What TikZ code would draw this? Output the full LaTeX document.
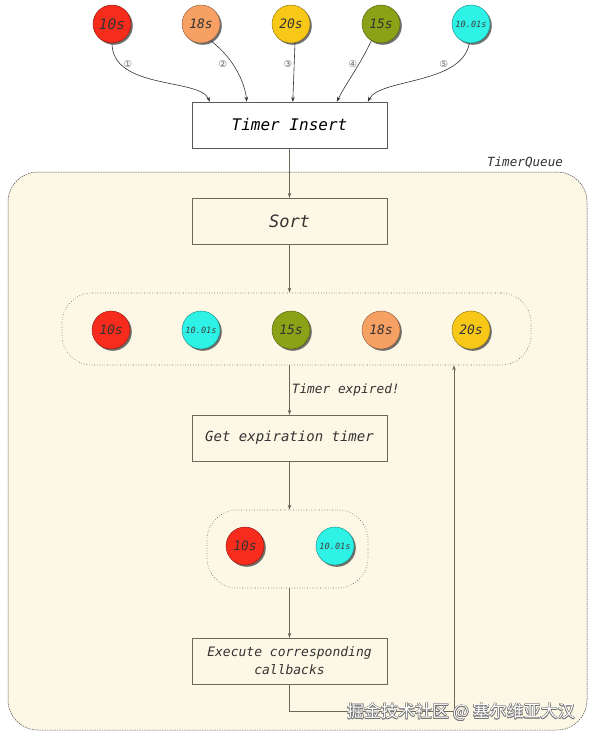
\documentclass[tikz,border=0pt]{standalone}
\usepackage{fontspec}
\setmonofont{DejaVu Sans Mono}
\newfontfamily\cjk{Noto Sans CJK SC}
\newfontfamily\symf{DejaVu Sans}
\usetikzlibrary{arrows.meta,shadows,calc}
\definecolor{cred}{HTML}{F82C1C}
\definecolor{corange}{HTML}{F7A064}
\definecolor{cyellow}{HTML}{F8C818}
\definecolor{cgreen}{HTML}{8CA216}
\definecolor{ccyan}{HTML}{2EF2E6}
\definecolor{cream}{HTML}{FDF8E6}
\definecolor{lineC}{HTML}{6E6658}
\begin{document}
\begin{tikzpicture}[x=1pt,y=-1pt,
  font=\ttfamily\itshape,
  circ/.style={circle, minimum size=38pt, inner sep=0pt, draw=#1!55!black, fill=#1,
    font=\fontsize{13}{15}\selectfont\ttfamily\itshape, text=black!80,
    drop shadow={shadow xshift=1.8pt, shadow yshift=-1.8pt, opacity=0.7, fill=black!80}},
  smallt/.style={font=\fontsize{8.6}{10}\selectfont\ttfamily\itshape, text=black!75},
  boxA/.style={draw=black!65, fill=white, minimum width=195pt, minimum height=46pt, inner sep=2pt, align=center},
  boxB/.style={draw=lineC, minimum width=195pt, minimum height=46pt, inner sep=2pt, align=center, text=black!80},
  arr/.style={-{Stealth[length=5pt,width=3.6pt]}, draw=black!80, line width=0.6pt},
  arrB/.style={-{Stealth[length=5pt,width=3.6pt]}, draw=lineC, line width=0.6pt},
  cont/.style={draw=black!65, dotted, line width=0.6pt, rounded corners=30pt},
  num/.style={font=\symf\fontsize{9.5}{10}\selectfont, text=black!60},
]
\useasboundingbox[fill=white] (0,0) rectangle (596,741);

% big queue
\node[draw=black!70, dash pattern=on 1.6pt off 0.9pt, line width=0.5pt, fill=cream,
  rounded corners=30pt, minimum width=579pt, minimum height=558pt] (queue) at (297.5,451) {};
\node[font=\fontsize{12.6}{14}\selectfont\ttfamily\itshape, text=black!80] (qlabel) at (525,163) {TimerQueue};

% top circles
\node[circ=cred, font=\fontsize{14.5}{16}\selectfont\ttfamily\itshape] (t1) at (112,24) {10s};
\node[circ=corange] (t2) at (201,24) {18s};
\node[circ=cyellow] (t3) at (291,24) {20s};
\node[circ=cgreen] (t4) at (381,24) {15s};
\node[circ=ccyan, smallt] (t5) at (471,24) {10.01s};

% insert box
\node[boxA, font=\fontsize{16}{18}\selectfont\ttfamily\itshape] (insert) at (289.5,125) {Timer Insert};
\coordinate (i1) at ($(insert.north west)+(18,0)$);
\coordinate (i2) at ($(insert.north west)+(55,0)$);
\coordinate (i3) at ($(insert.north west)+(101,0)$);
\coordinate (i4) at ($(insert.north west)+(145,0)$);
\coordinate (i5) at ($(insert.north west)+(176,0)$);

\draw[arr] (t1.south) .. controls (112,90) and (200,78) .. (i1);
\draw[arr] (t2.-60) .. controls (236,60) and (245,85) .. (i2);
\draw[arr] (t3.-78) -- (i3);
\draw[arr] (t4.-120) .. controls (360,65) and (345,85) .. (i4);
\draw[arr] (t5.-95) .. controls (462,85) and (380,78) .. (i5);

\node[num] (n1) at (128,64) {①};
\node[num] (n2) at (223,64) {②};
\node[num] (n3) at (288,64) {③};
\node[num] (n4) at (353,64) {④};
\node[num] (n5) at (444,64) {⑤};

% sort
\node[boxB, fill=cream, font=\fontsize{17}{19}\selectfont\ttfamily\itshape] (sort) at (289.5,221) {Sort};
\draw[arrB] (insert.south) -- (sort.north);

% row container
\node[cont, minimum width=469pt, minimum height=72pt] (rowbox) at (296.5,329) {};
\draw[arrB] (sort.south) -- (sort.south |- rowbox.north);
\node[circ=cred] (r1) at (111,330) {10s};
\node[circ=ccyan, smallt] (r2) at (201,330) {10.01s};
\node[circ=cgreen] (r3) at (291,330) {15s};
\node[circ=corange] (r4) at (381,330) {18s};
\node[circ=cyellow] (r5) at (471,330) {20s};

% get expiration
\node[boxB, font=\fontsize{14}{16}\selectfont\ttfamily\itshape] (getexp) at (289.5,438) {Get expiration timer};
\draw[arrB] (getexp.north |- rowbox.south) -- (getexp.north)
  node[midway, right, inner sep=2pt, font=\fontsize{12.8}{14}\selectfont\ttfamily\itshape, text=black!80] (explabel) {Timer expired!};

% small container
\node[cont, minimum width=161pt, minimum height=78pt] (smallbox) at (287.5,549) {};
\draw[arrB] (getexp.south) -- (getexp.south |- smallbox.north);
\node[circ=cred] (s1) at (245,546) {10s};
\node[circ=ccyan, smallt] (s2) at (335,546) {10.01s};

% execute
\node[boxB, font=\fontsize{13}{18}\selectfont\ttfamily\itshape] (exec) at (289.5,661) {Execute corresponding\\callbacks};
\draw[arrB] (exec.north |- smallbox.south) -- (exec.north);

\coordinate (back) at (454,711);
\draw[arrB] (exec.south) |- (back) -- (back |- rowbox.south);

% watermark
\foreach \dx/\dy in {0.6/0,-0.6/0,0/0.6,0/-0.6,0.45/0.45,-0.45/0.45,0.45/-0.45,-0.45/-0.45}{
  \node[font=\cjk\fontsize{17}{19}\selectfont, text=black!55] at ($(461,712)+(\dx,\dy)$) {掘金技术社区 @ 塞尔维亚大汉};
}
\node[font=\cjk\fontsize{17}{19}\selectfont, text=white] (wm) at (461,712) {掘金技术社区 @ 塞尔维亚大汉};
\end{tikzpicture}
\end{document}
